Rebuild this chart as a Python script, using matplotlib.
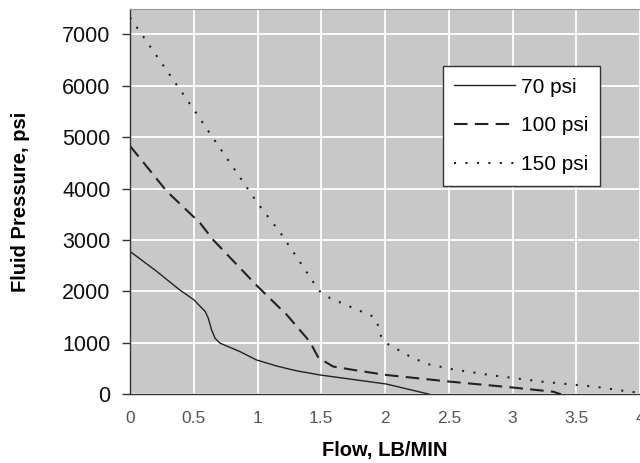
import matplotlib
matplotlib.use("Agg")
import matplotlib.pyplot as plt

plt.rcParams['font.family'] = ['Liberation Sans', 'DejaVu Sans']

x70 = [0, 0.21, 0.39, 0.5, 0.59, 0.614, 0.64, 0.667, 0.706, 0.863, 0.99, 1.15, 1.3, 1.49, 2.01, 2.35]
y70 = [2780, 2390, 2030, 1840, 1610, 1480, 1250, 1090, 995, 830, 670, 550, 460, 376, 200, 0]

x100 = [0, 0.288, 0.55, 0.65, 1.0, 1.23, 1.41, 1.48, 1.49, 1.594, 1.75, 2.01, 2.51, 2.99, 3.32, 3.38]
y100 = [4830, 3950, 3330, 3010, 2100, 1545, 1025, 700, 690, 540, 475, 376, 246, 135, 50, 0]

x150 = [0, 0.5, 0.65, 1.0, 1.18, 1.46, 1.49, 1.57, 1.75, 1.91, 1.95, 1.97, 2.01, 2.196, 2.33, 2.53, 2.82, 3.23, 3.65, 3.92, 4.0]
y150 = [7330, 5540, 4990, 3720, 3140, 2100, 2000, 1870, 1680, 1510, 1320, 1120, 995, 735, 590, 487, 376, 246, 148, 50, 30]

labels = ['70 psi', '100 psi', '150 psi']
xticks = [0, 0.5, 1, 1.5, 2, 2.5, 3, 3.5, 4]
xticklabels = ['0', '0.5', '1', '1.5', '2', '2.5', '3', '3.5', '4']
yticks = [0, 1000, 2000, 3000, 4000, 5000, 6000, 7000]

fig = plt.figure(figsize=(6.4, 4.63), dpi=100)
ax = fig.add_axes([130/640, 1 - 394.3/463, 510/640, 385.6/463])
ax.set_facecolor('#c8c8c8')

ax.plot(x70, y70, color='#222222', lw=1.0, ls='-', label=labels[0])
ax.plot(x100, y100, color='#222222', lw=1.5, ls=(0, (6.5, 3.5)), label=labels[1])
ax.plot(x150, y150, color='#222222', lw=1.5, ls=(0, (1, 4.5)), label=labels[2])

ax.set_xlim(0, 4)
ax.set_ylim(0, 7500)
ax.set_xticks(xticks)
ax.set_xticklabels(xticklabels)
ax.set_yticks(yticks)
ax.grid(True, color='white', lw=1.3)
ax.set_axisbelow(True)

ax.tick_params(axis='y', length=6, width=1, color='#333333', pad=8, labelsize=15.5, labelcolor='#111111')
ax.tick_params(axis='x', length=0, pad=12, labelsize=12.5, labelcolor='#555555')

for s in ['left', 'bottom']:
    ax.spines[s].set_color('#333333')
    ax.spines[s].set_linewidth(1.0)
ax.spines['top'].set_color('#999999')
ax.spines['right'].set_visible(False)

ax.set_xlabel('Flow, LB/MIN', fontsize=14.5, fontweight='bold', labelpad=11)
ax.set_ylabel('Fluid Pressure, psi', fontsize=14.5, fontweight='bold', labelpad=23)

leg = ax.legend(loc='upper left', bbox_to_anchor=(0.613, 0.851), borderaxespad=0,
                fontsize=15, handlelength=2.9, labelspacing=0.95, fancybox=False,
                framealpha=1, edgecolor='#333333', borderpad=0.55, handletextpad=0.3)
leg.get_frame().set_linewidth(1.0)

fig.savefig('out.png', dpi=100)
